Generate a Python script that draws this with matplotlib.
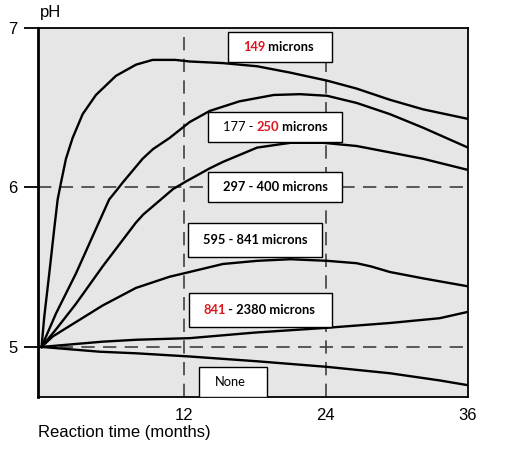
import matplotlib
matplotlib.use('Agg')
import matplotlib.pyplot as plt
from matplotlib.patches import Rectangle

# pH readings per particle size (months, pH)
months_149 = [0, 0.23, 0.65, 1.07, 1.36, 1.64, 2.06, 2.62, 3.47, 4.59, 6.28, 7.97, 9.38, 11.3, 12.5,
              15.3, 18.2, 21, 24.1, 26.6, 29.4, 32.2, 36]
ph_149 = [5.0, 5.19, 5.46, 5.74, 5.925, 6.03, 6.18, 6.31, 6.46, 6.58, 6.70, 6.77, 6.80, 6.80, 6.79,
          6.78, 6.76, 6.72, 6.67, 6.62, 6.55, 6.49, 6.43]

months_177 = [0, 1.22, 2.9, 4.59, 5.71, 6.42, 6.84, 8.53, 9.4, 10.8, 12.5, 14.2, 16.7, 19.6, 21.8, 24.1,
              26.6, 29.4, 32.2, 36]
ph_177 = [5.0, 5.21, 5.46, 5.74, 5.925, 5.99, 6.03, 6.18, 6.24, 6.31, 6.41, 6.48, 6.54, 6.58, 6.585, 6.575,
          6.53, 6.46, 6.375, 6.25]

months_297 = [0, 1.22, 2.9, 5.16, 7.97, 8.58, 11.1, 12.25, 14.2, 15.3, 18.2, 21, 23.8, 26.6, 29.4, 32.2, 36]
ph_297 = [5.0, 5.11, 5.27, 5.505, 5.78, 5.83, 5.99, 6.04, 6.12, 6.16, 6.25, 6.28, 6.28, 6.26, 6.22, 6.18, 6.11]

months_595 = [0, 0.93, 2.34, 5.16, 7.97, 10.8, 12.5, 15.3, 18.2, 21, 24.1, 26.6, 27.8, 29.4, 32.2, 36]
ph_595 = [5.0, 5.065, 5.13, 5.26, 5.37, 5.44, 5.47, 5.52, 5.54, 5.55, 5.54, 5.525, 5.505, 5.47, 5.43, 5.38]

months_841 = [0, 5.16, 8, 12.5, 18, 24.1, 29.4, 33.6, 36]
ph_841 = [5.0, 5.033, 5.045, 5.055, 5.09, 5.12, 5.15, 5.18, 5.22]

months_none = [0, 4.9, 8, 12.5, 18.2, 24.1, 29.4, 33.6, 36]
ph_none = [5.0, 4.97, 4.96, 4.94, 4.91, 4.875, 4.835, 4.79, 4.76]

# label pieces: (text, colour is red, bold)
labels = [
    [('149', True, True), (' microns', False, True)],
    [('177 - ', False, False), ('250', True, True), (' microns', False, True)],
    [('297 - 400 microns', False, True)],
    [('595 - 841 microns', False, True)],
    [('841', True, True), (' - 2380 microns', False, True)],
    [('None', False, False)],
]
# box extents in axes fraction: x0, x1, y0, y1, text start x
boxes = [
    (0.442, 0.684, 0.908, 0.989, 0.477),
    (0.395, 0.707, 0.691, 0.772, 0.430),
    (0.395, 0.707, 0.528, 0.610, 0.430),
    (0.349, 0.660, 0.379, 0.472, 0.384),
    (0.351, 0.684, 0.190, 0.282, 0.384),
    (0.374, 0.533, 0.000, 0.081, 0.412),
]

red = '#e0141c'

fig = plt.figure(figsize=(5.05, 4.5), dpi=100)
ax = fig.add_axes([38/505, 1 - 397/450, 430/505, 369/450])
ax.set_facecolor('#e6e6e6')

for xs, ys in [(months_149, ph_149), (months_177, ph_177), (months_297, ph_297),
               (months_595, ph_595), (months_841, ph_841), (months_none, ph_none)]:
    ax.plot(xs, ys, color='black', lw=1.7, solid_joinstyle='round', zorder=3)

for x in [12, 24]:
    ax.axvline(x, color='#404040', lw=1.2, dashes=(8, 5), zorder=2)
for y in [5, 6]:
    ax.axhline(y, color='#404040', lw=1.2, dashes=(8, 5), zorder=2)

ax.set_xlim(-0.3, 36)
ax.set_ylim(4.686, 7.0)
ax.set_xticks([12, 24, 36])
ax.set_yticks([5, 6, 7])
ax.tick_params(axis='x', length=0, pad=8, labelsize=12)
ax.tick_params(axis='y', length=10, width=1.3, pad=5, labelsize=12)
for lab in ax.get_xticklabels() + ax.get_yticklabels():
    lab.set_fontfamily('Liberation Sans')
for s in ax.spines.values():
    s.set_linewidth(1.3)
ax.spines['left'].set_linewidth(2)

for (x0, x1, y0, y1, tx), parts in zip(boxes, labels):
    ax.add_patch(Rectangle((x0, y0), x1 - x0, y1 - y0, transform=ax.transAxes,
                           facecolor='white', edgecolor='black', lw=1, zorder=5))
    prev = None
    for txt, is_red, bold in parts:
        kw = dict(color=red if is_red else 'black', fontsize=9.3,
                  fontweight='bold' if bold else 'normal',
                  fontfamily='Lato', va='center', ha='left', zorder=6)
        if prev is None:
            prev = ax.text(tx, (y0 + y1) / 2, txt, transform=ax.transAxes, **kw)
        else:
            prev = ax.annotate(txt, xy=(1, 0.5), xycoords=prev, **kw)

fig.text(40/505, 1 - 13/450, 'pH', fontsize=12, fontfamily='Liberation Sans', va='center', ha='left')
fig.text(38/505, 1 - 433/450, 'Reaction time (months)', fontsize=12, fontfamily='Liberation Sans',
         va='center', ha='left')

fig.savefig('out.png', dpi=100)
